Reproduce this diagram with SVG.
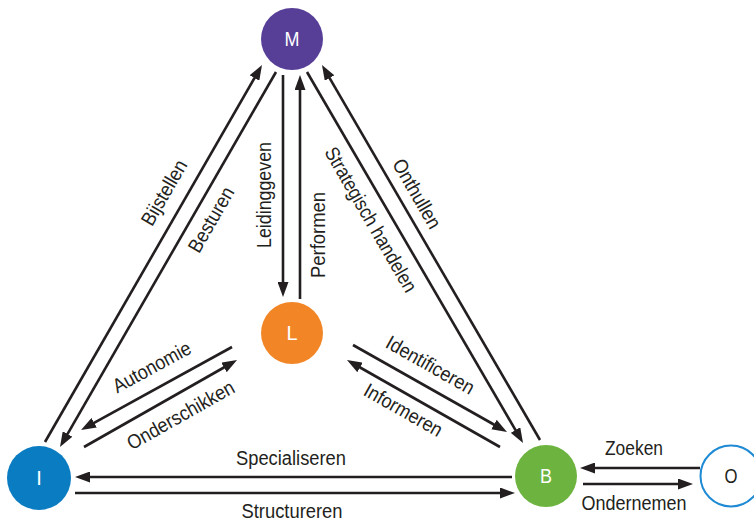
<svg xmlns="http://www.w3.org/2000/svg" width="754" height="521" viewBox="0 0 754 521">
<style>
.lbl{font-family:"Liberation Sans",Arial,sans-serif;font-size:20px;fill:#231f20;text-anchor:middle}
.nl{font-family:"Liberation Sans",Arial,sans-serif;font-size:20px;fill:#ffffff;text-anchor:middle}
.ln{stroke:#231f20;stroke-width:2.6;fill:none;marker-end:url(#ah)}
</style>
<defs>
<marker id="ah" markerUnits="userSpaceOnUse" markerWidth="15" markerHeight="11" refX="9" refY="5.5" orient="auto">
<path d="M0,0 L15,5.5 L0,11 z" fill="#231f20"/>
</marker>
</defs>
<rect width="754" height="521" fill="#ffffff"/>
<g id="connectors">
<path class="ln" d="M45,442 L259,70.2"/>
<path class="ln" d="M276,72 L63,441.8"/>
<path class="ln" d="M283,75 L283,291"/>
<path class="ln" d="M300,299 L300,81"/>
<path class="ln" d="M307,72 L520,437.8"/>
<path class="ln" d="M540,440 L325,70.2"/>
<path class="ln" d="M232,347 L86.3,427.1"/>
<path class="ln" d="M84,447 L231.8,363"/>
<path class="ln" d="M353,345 L501.8,429"/>
<path class="ln" d="M500,447 L352.2,363"/>
<path class="ln" d="M512,477 L81,477"/>
<path class="ln" d="M75,493 L509,493"/>
<path class="ln" d="M700,468 L586,468"/>
<path class="ln" d="M583,484 L687,484"/>
</g>
<g id="labels">
<text class="lbl" transform="translate(170,196) rotate(-60)" textLength="72" lengthAdjust="spacingAndGlyphs">Bijstellen</text>
<text class="lbl" transform="translate(217,223) rotate(-60)" textLength="72" lengthAdjust="spacingAndGlyphs">Besturen</text>
<text class="lbl" transform="translate(271,195) rotate(-90)" textLength="106" lengthAdjust="spacingAndGlyphs">Leidinggeven</text>
<text class="lbl" transform="translate(325,235) rotate(-90)" textLength="86" lengthAdjust="spacingAndGlyphs">Performen</text>
<text class="lbl" transform="translate(365,223) rotate(60)" textLength="164" lengthAdjust="spacingAndGlyphs">Strategisch handelen</text>
<text class="lbl" transform="translate(411,197) rotate(60)" textLength="77" lengthAdjust="spacingAndGlyphs">Onthullen</text>
<text class="lbl" transform="translate(155,373) rotate(-28.6)" textLength="86" lengthAdjust="spacingAndGlyphs">Autonomie</text>
<text class="lbl" transform="translate(184,421) rotate(-29.5)" textLength="120" lengthAdjust="spacingAndGlyphs">Onderschikken</text>
<text class="lbl" transform="translate(427,371) rotate(29.5)" textLength="98" lengthAdjust="spacingAndGlyphs">Identificeren</text>
<text class="lbl" transform="translate(400,416) rotate(29.6)" textLength="87" lengthAdjust="spacingAndGlyphs">Informeren</text>
<text class="lbl" x="291" y="465" textLength="110" lengthAdjust="spacingAndGlyphs">Specialiseren</text>
<text class="lbl" x="292" y="518" textLength="101" lengthAdjust="spacingAndGlyphs">Structureren</text>
<text class="lbl" x="634" y="455" textLength="58" lengthAdjust="spacingAndGlyphs">Zoeken</text>
<text class="lbl" x="634" y="510" textLength="105" lengthAdjust="spacingAndGlyphs">Ondernemen</text>
</g>
<g id="node-M">
<circle cx="292" cy="39" r="31" fill="#573f98"/>
<text class="nl" x="292" y="46" textLength="15" lengthAdjust="spacingAndGlyphs">M</text>
</g>
<g id="node-L">
<circle cx="292" cy="333" r="31" fill="#f28627"/>
<text class="nl" x="292" y="340">L</text>
</g>
<g id="node-I">
<circle cx="39" cy="478" r="32" fill="#0a7cc1"/>
<text class="nl" x="39" y="485">I</text>
</g>
<g id="node-B">
<circle cx="546" cy="476" r="31" fill="#6db33f"/>
<text class="nl" x="546" y="483" textLength="12" lengthAdjust="spacingAndGlyphs">B</text>
</g>
<g id="node-O">
<circle cx="731" cy="476" r="30.5" fill="#ffffff" stroke="#1e8ad4" stroke-width="2"/>
<text class="lbl" x="731" y="483" textLength="13" lengthAdjust="spacingAndGlyphs">O</text>
</g>
</svg>
